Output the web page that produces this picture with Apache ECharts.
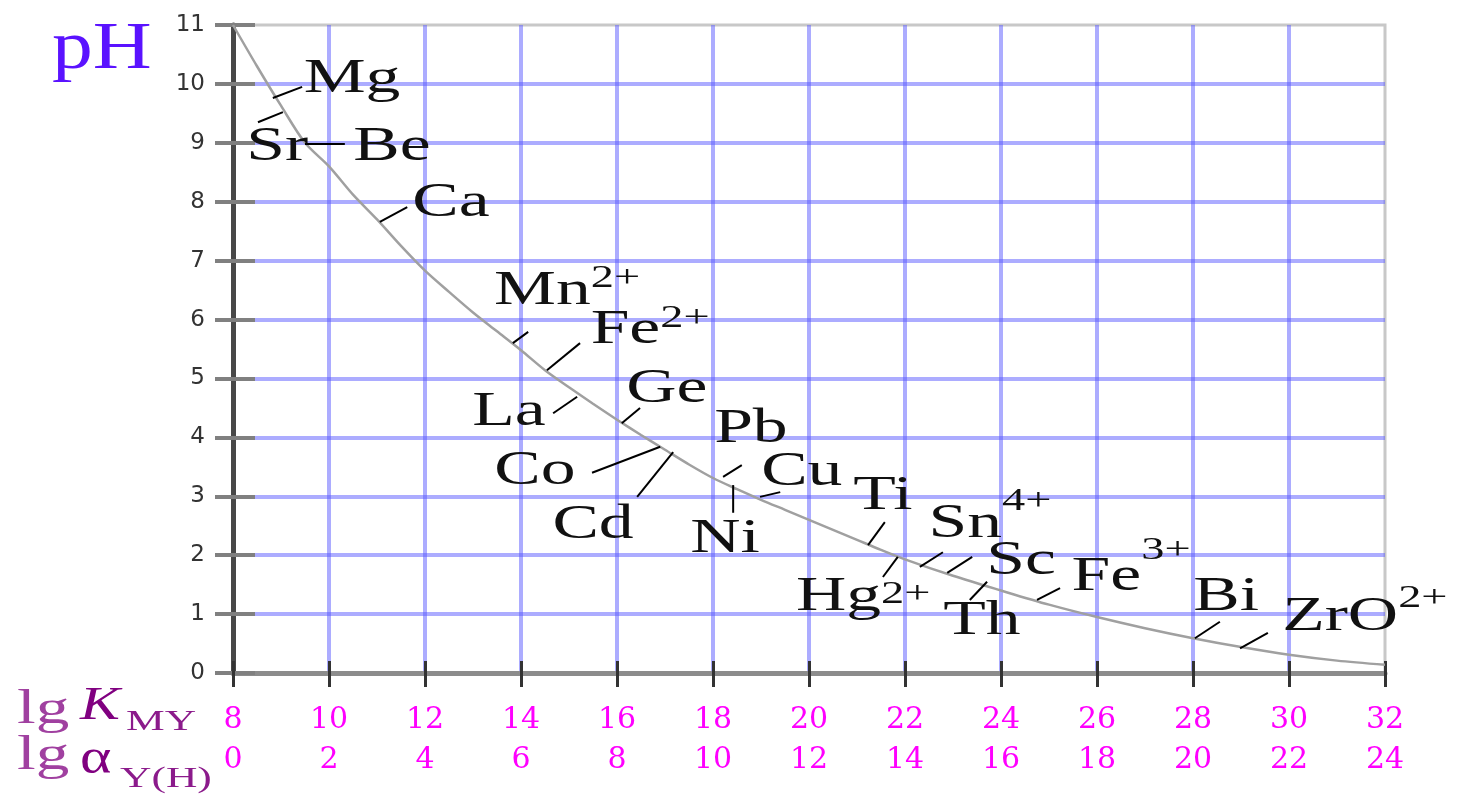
<!DOCTYPE html>
<html>
<head>
<meta charset="utf-8">
<title>EDTA 酸效应曲线</title>
<script src="https://cdn.jsdelivr.net/npm/echarts@6/dist/echarts.min.js"></script>
<style>
    html, body { margin: 0; padding: 0; background: #fff; }
    #chart { width: 1458px; height: 794px; }
</style>
</head>
<body>
<div id="chart"></div>
<script>
// curve: lgK_MY -> lowest pH
const lgK = [8, 8.5, 9, 9.5, 10, 10.5, 11, 11.5, 12, 12.5, 13, 13.5, 14, 14.5, 15, 15.5, 16, 16.5, 17, 17.5,
    18, 18.5, 19, 19.5, 20, 20.5, 21, 21.5, 22, 23, 24, 25, 26, 27, 28, 29, 30, 31, 32]
const pH = [11.0, 10.3, 9.63, 9.0, 8.6, 8.12, 7.7, 7.25, 6.83, 6.47, 6.12, 5.8, 5.48, 5.14, 4.85, 4.57, 4.3, 4.04, 3.79, 3.54,
    3.31, 3.12, 2.94, 2.77, 2.6, 2.43, 2.26, 2.09, 1.93, 1.65, 1.4, 1.16, 0.95, 0.76, 0.59, 0.44, 0.31, 0.21, 0.14]

// ion labels, centre of each label in (lgK, pH)
const ions = ['Mg', 'Sr', 'Be', 'Ca', 'Mn', 'Fe', 'La', 'Ge', 'Pb', 'Co', 'Cu', 'Cd', 'Ni', 'Ti', 'Sn', 'Sc', 'Hg', 'Th', 'Fe', 'Bi', 'ZrO']
const charges = ['', '', '', '', '2+', '2+', '', '', '', '', '', '', '', '', '4+', '', '2+', '', '3+', '', '2+']
const ionX = [10.48, 8.92, 11.31, 12.54, 14.96, 16.69, 13.75, 17.04, 18.79, 14.29, 19.85, 15.5, 18.25, 21.54, 23.77, 24.42, 21.13, 23.6, 26.71, 28.69, 31.58]
const ionY = [10.08, 8.93, 8.93, 7.98, 6.47, 5.81, 4.43, 4.82, 4.13, 3.43, 3.41, 2.51, 2.26, 2.99, 2.53, 1.9, 1.29, 0.88, 1.63, 1.29, 0.95]

// leader lines [lgK1, pH1, lgK2, pH2]
const leaders = [
    [8.83, 9.76, 9.44, 9.95],
    [9.04, 9.52, 8.52, 9.35],
    [9.5, 8.98, 10.33, 8.98],
    [11.06, 7.66, 11.63, 7.91],
    [13.83, 5.6, 14.15, 5.79],
    [14.54, 5.14, 15.23, 5.6],
    [15.17, 4.69, 14.67, 4.41],
    [16.1, 4.24, 16.48, 4.5],
    [18.21, 3.33, 18.6, 3.53],
    [16.9, 3.84, 15.48, 3.4],
    [17.17, 3.75, 16.42, 2.99],
    [18.42, 3.19, 18.42, 2.72],
    [18.98, 2.99, 19.4, 3.07],
    [21.23, 2.17, 21.58, 2.56],
    [21.85, 1.97, 21.54, 1.63],
    [22.31, 1.8, 22.79, 2.05],
    [22.88, 1.7, 23.4, 1.97],
    [23.71, 1.55, 23.35, 1.24],
    [24.75, 1.24, 25.23, 1.44],
    [28.04, 0.59, 28.56, 0.87],
    [28.98, 0.42, 29.56, 0.68],
]

// how far each charge sits above its symbol (px)
const supRise = { 'Mn2+': 13, 'Fe2+': 12, 'Sn4+': 22, 'Hg2+': 2, 'Fe3+': 26, 'ZrO2+': 18 }

const serif = '"Liberation Serif", "Times New Roman", serif'
const chart = echarts.init(document.getElementById('chart'))

function nameText(x, y, text, size, color, sx, italic) {
    return {
        type: 'text', x: x, y: y, scaleX: sx,
        style: {
            text: text, fill: color,
            font: (italic ? 'italic ' : '') + size + 'px ' + serif,
            align: 'left', verticalAlign: 'middle',
            textAlign: 'left', textVerticalAlign: 'middle',
        },
    }
}

chart.setOption({
    animation: false,
    grid: {
        left: 233, right: 73, top: 25, bottom: 121,
        show: true, borderColor: '#c8c8c8', borderWidth: 3,
    },
    xAxis: [
        {
            type: 'value', min: 8, max: 32, interval: 2, position: 'bottom',
            axisLine: { lineStyle: { color: '#8c8c8c', width: 5 } },
            axisTick: { length: 14, lineStyle: { color: '#333', width: 3 } },
            axisLabel: { margin: 32, color: '#ff00ff', fontSize: 30, fontFamily: '"DejaVu Serif", serif' },
            splitLine: {
                showMinLine: false, showMaxLine: false,
                lineStyle: { color: 'rgba(90,90,255,0.5)', width: 4 },
            },
        },
        {
            type: 'value', min: 0, max: 24, interval: 2, position: 'bottom', offset: 40,
            axisLine: { show: false }, axisTick: { show: false }, splitLine: { show: false },
            axisLabel: { margin: 32, color: '#ff00ff', fontSize: 30, fontFamily: '"DejaVu Serif", serif' },
        },
        {
            // inner half of the x ticks
            type: 'value', min: 8, max: 32, interval: 2, position: 'bottom',
            axisLine: { show: false }, axisLabel: { show: false }, splitLine: { show: false },
            axisTick: { inside: true, length: 12, lineStyle: { color: '#333', width: 3 } },
        },
    ],
    yAxis: [
        {
            type: 'value', min: 0, max: 11, interval: 1, position: 'left',
            axisLine: { show: true, lineStyle: { color: '#484848', width: 5 } },
            axisTick: { show: true, length: 18, lineStyle: { color: '#808080', width: 4 } },
            axisLabel: { margin: 28, color: '#333', fontSize: 23, fontFamily: '"DejaVu Sans", sans-serif' },
            splitLine: {
                showMinLine: false, showMaxLine: false,
                lineStyle: { color: 'rgba(90,90,255,0.5)', width: 4 },
            },
        },
        {
            // inner half of the y ticks
            type: 'value', min: 0, max: 11, interval: 1, position: 'left',
            axisLine: { show: false }, axisLabel: { show: false }, splitLine: { show: false },
            axisTick: { show: true, inside: true, length: 22, lineStyle: { color: '#808080', width: 4 } },
        },
    ],
    graphic: [
        nameText(52, 50, 'pH', 68, '#5a12ff', 1.2),
        nameText(17, 710, 'lg', 48, '#a040a0', 1.4),
        nameText(80, 707, 'K', 46, '#800080', 1.3, true),
        nameText(126, 722, 'MY', 30, '#8b1a8b', 1.45),
        nameText(17, 756, 'lg', 48, '#a040a0', 1.4),
        nameText(80, 760, 'α', 50, '#800080', 1.2),
        nameText(120, 779, 'Y(H)', 30, '#8b1a8b', 1.45),
    ],
    series: [
        {
            type: 'line',
            data: lgK.map((x, i) => [x, pH[i]]),
            smooth: 0.3,
            symbol: 'none',
            lineStyle: { color: '#a0a0a0', width: 2.5 },
            z: 3,
        },
        {
            type: 'custom',
            data: leaders,
            encode: { x: [0, 2], y: [1, 3] },
            renderItem(params, api) {
                const a = api.coord([api.value(0), api.value(1)])
                const b = api.coord([api.value(2), api.value(3)])
                return {
                    type: 'line',
                    shape: { x1: a[0], y1: a[1], x2: b[0], y2: b[1] },
                    style: { stroke: '#000', lineWidth: 2 },
                }
            },
            z: 4,
        },
        {
            type: 'custom',
            data: ionX.map((x, i) => [x, ionY[i]]),
            encode: { x: 0, y: 1 },
            renderItem(params, api) {
                const p = api.coord([api.value(0), api.value(1)])
                const i = params.dataIndex
                const chg = charges[i]
                const rise = chg ? supRise[ions[i] + chg] : 0
                const text = chg ? '{m|' + ions[i] + '}{s|' + chg + '}' : '{m|' + ions[i] + '}'
                return {
                    type: 'text',
                    x: p[0], y: p[1], scaleX: 1.45,
                    style: {
                        text: text,
                        align: 'center', verticalAlign: 'middle',
                        rich: {
                            m: { fontSize: 48, fontFamily: serif, fill: '#111' },
                            s: { fontSize: 32, fontFamily: serif, fill: '#111', padding: [0, 0, 2 * rise, 0] },
                        },
                    },
                }
            },
            z: 5,
        },
    ],
})
</script>
</body>
</html>
